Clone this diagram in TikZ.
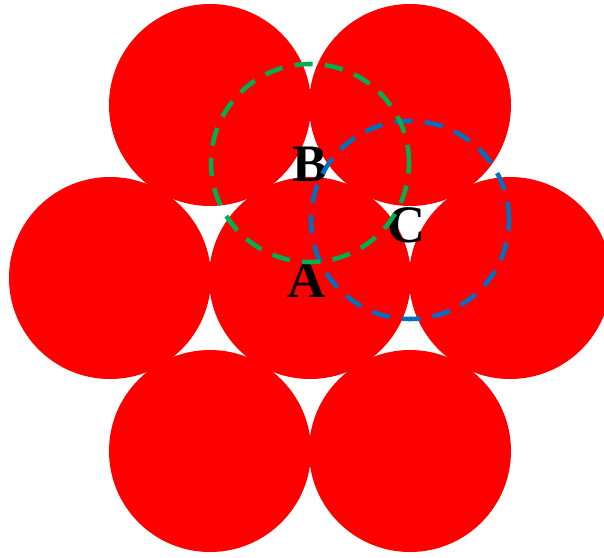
\documentclass[tikz,border=0pt]{standalone}
\usepackage{fontspec}
\setmainfont{Liberation Serif}
\usepackage{tikz}
\usetikzlibrary{positioning}
\definecolor{ballred}{RGB}{255,0,0}
\definecolor{holegreen}{RGB}{0,176,80}
\definecolor{holeblue}{RGB}{0,112,192}

\begin{document}
\begin{tikzpicture}[x=1cm, y=-1cm,
      ball/.style={circle, fill=ballred, inner sep=0pt, minimum size=2.02cm},
      hole/.style={circle, draw, dash pattern=on 5.2pt off 3.5pt, line width=1.3pt, inner sep=0pt, minimum size=1.98cm},
      lbl/.style={font=\fontsize{15}{18}\selectfont\bfseries, inner sep=0pt}]
    \useasboundingbox (0,0) rectangle (6.04,5.57);
    \clip (0,0) rectangle (6.04,5.57);
    % hexagonal layer of spheres
    \node[ball] (tl) at (2.10,1.05) {}; \node[ball] (tr) at (4.10,1.05) {};
    \node[ball] (ml) at (1.10,2.78) {}; \node[ball] (mid) at (3.10,2.78) {};
    \node[ball] (mr) at (5.10,2.78) {};
    \node[ball] (bl) at (2.10,4.51) {}; \node[ball] (br) at (4.10,4.51) {};
    % labels of the three positions
    \node[lbl] (labB) at (3.10,1.64) {B};
    \node[lbl] (labC) at (4.07,2.25) {C};
    \node[lbl] (labA) at (3.07,2.80) {A};
    % holes of the next layer
    \node[hole, holeblue] (holeC) at (4.10,2.20) {};
    \node[hole, holegreen] (holeB) at (3.10,1.63) {};
  \end{tikzpicture}
\end{document}
